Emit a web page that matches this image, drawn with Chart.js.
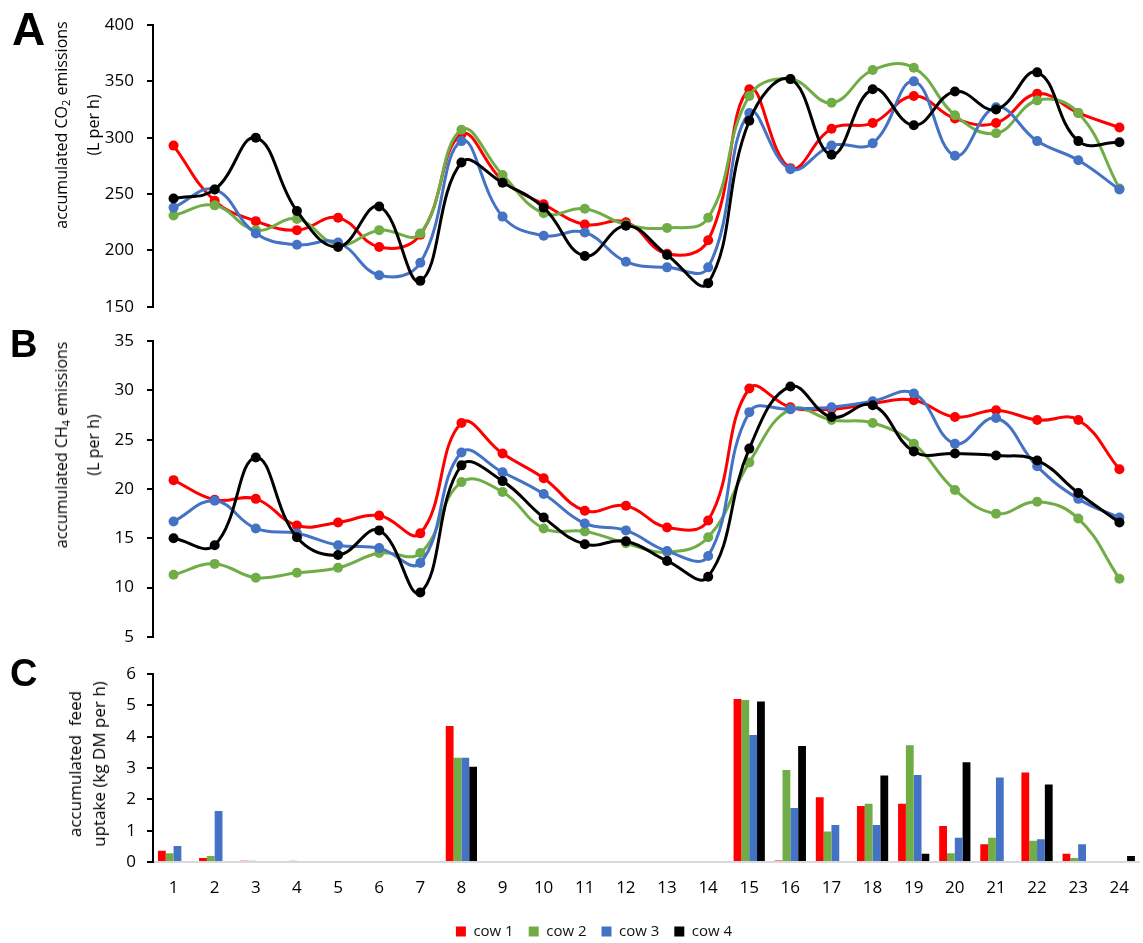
<!DOCTYPE html>
<html>
<head>
<meta charset="utf-8">
<script src="https://cdn.jsdelivr.net/npm/chart.js@4.4.0/dist/chart.umd.min.js"></script>
<style>
  html, body { margin: 0; padding: 0; background: #fff; overflow: hidden; }
  #page { position: relative; width: 1143px; height: 943px; overflow: hidden; font-family: "Open Sans", sans-serif; color: #000; }
  .panel { position: absolute; left: 0; width: 1145px; }
  .letter { position: absolute; font-family: "Liberation Sans", Arial, sans-serif; font-weight: bold; line-height: 1; color: #000; }
  .ytitle { position: absolute; transform: translate(-50%, -50%) rotate(-90deg); white-space: nowrap; text-align: center; font-size: 16px; line-height: 32px; }
  .ytitle sub { font-size: 11px; line-height: 0; vertical-align: -3px; }
</style>
</head>
<body>
<div id="page">
  <div class="panel" style="top:0; height:330px;"><canvas id="co2Chart"></canvas></div>
  <div class="panel" style="top:318px; height:342px;"><canvas id="ch4Chart"></canvas></div>
  <div class="panel" style="top:650px; height:299px;"><canvas id="feedChart"></canvas></div>

  <div class="letter" style="left:12px; top:6px; font-size:46px;">A</div>
  <div class="letter" style="left:10px; top:325px; font-size:38px;">B</div>
  <div class="letter" style="left:10px; top:654px; font-size:38px;">C</div>

  <div class="ytitle" style="left:77px; top:125px;">accumulated CO<sub>2</sub> emissions<br>(L per h)</div>
  <div class="ytitle" style="left:77px; top:445px;">accumulated CH<sub>4</sub> emissions<br>(L per h)</div>
  <div class="ytitle" style="left:87px; top:764px; font-size:17px; line-height:24px;">accumulated&nbsp; feed<br>uptake (kg DM per h)</div>
</div>

<script>
// Hour of the day (x categories shared by all three panels)
const hours = ['1','2','3','4','5','6','7','8','9','10','11','12','13','14','15','16','17','18','19','20','21','22','23','24'];
const cowNames = ['cow 1', 'cow 2', 'cow 3', 'cow 4'];
const cowColors = ['#FF0000', '#70AD47', '#4472C4', '#000000'];

// A: accumulated CO2 emissions (L per h)
const co2Cow1 = [293, 244, 226, 218, 229, 203, 214, 303, 262, 241, 223, 225, 197, 209, 343, 273, 308, 313, 337, 317, 313, 339, 322, 309];
const co2Cow2 = [231, 240, 218, 228, 205, 218, 215, 307, 267, 233, 237, 223, 220, 229, 337, 352, 331, 360, 362, 320, 304, 333, 322, 255];
const co2Cow3 = [238, 254, 215, 205, 207, 178, 189, 297, 230, 213, 216, 190, 185, 185, 322, 272, 293, 295, 350, 284, 327, 297, 280, 254];
const co2Cow4 = [246, 254, 300, 235, 203, 239, 173, 278, 260, 238, 195, 222, 196, 171, 315, 352, 285, 343, 311, 341, 325, 358, 297, 296];

// B: accumulated CH4 emissions (L per h)
const ch4Cow1 = [20.9, 18.9, 19.0, 16.3, 16.6, 17.3, 15.5, 26.7, 23.6, 21.1, 17.8, 18.3, 16.1, 16.8, 30.2, 28.3, 28.1, 28.7, 29.0, 27.3, 28.0, 27.0, 27.0, 22.0];
const ch4Cow2 = [11.3, 12.4, 11.0, 11.5, 12.0, 13.5, 13.5, 20.7, 19.7, 16.0, 15.7, 14.5, 13.6, 15.1, 22.7, 28.1, 27.0, 26.7, 24.6, 19.9, 17.5, 18.7, 17.0, 10.9];
const ch4Cow3 = [16.7, 18.8, 16.0, 15.5, 14.3, 14.0, 12.5, 23.7, 21.7, 19.5, 16.5, 15.8, 13.7, 13.2, 27.8, 28.1, 28.3, 28.9, 29.7, 24.6, 27.2, 22.3, 19.0, 17.1];
const ch4Cow4 = [15.0, 14.3, 23.2, 15.1, 13.3, 15.8, 9.5, 22.4, 20.8, 17.1, 14.4, 14.7, 12.7, 11.1, 24.1, 30.4, 27.3, 28.5, 23.8, 23.6, 23.4, 22.9, 19.6, 16.6];

// C: accumulated feed uptake (kg DM per h)
const feedCow1 = [0.36, 0.13, 0.04, 0, 0, 0, 0, 4.34, 0, 0, 0, 0, 0, 0, 5.20, 0.05, 2.07, 1.79, 1.86, 1.15, 0.57, 2.86, 0.26, 0];
const feedCow2 = [0.28, 0.19, 0.04, 0.04, 0, 0, 0, 3.33, 0, 0, 0, 0, 0, 0, 5.17, 2.94, 0.97, 1.86, 3.73, 0.28, 0.77, 0.68, 0.13, 0];
const feedCow3 = [0.51, 1.63, 0, 0, 0, 0, 0, 3.33, 0, 0, 0, 0, 0, 0, 4.05, 1.72, 1.18, 1.18, 2.78, 0.77, 2.70, 0.73, 0.57, 0];
const feedCow4 = [0, 0, 0, 0, 0, 0, 0, 3.04, 0, 0, 0, 0, 0, 0, 5.12, 3.70, 0, 2.76, 0.26, 3.18, 0, 2.47, 0, 0.19];

const tickFont = { family: 'Open Sans', size: 17 };

function lineSets(series) {
  return series.map((values, i) => ({
    label: cowNames[i],
    data: values,
    borderColor: cowColors[i],
    backgroundColor: cowColors[i],
    pointBackgroundColor: cowColors[i],
    pointBorderWidth: 0,
    pointRadius: 5,
    borderWidth: 3,
    tension: 0.42,
    fill: false,
    clip: false,
    order: series.length - i   // later cows drawn on top
  }));
}

function yAxis(min, max, step, padTicks, width) {
  return {
    min: min, max: max,
    ticks: { stepSize: step, font: tickFont, color: '#000', padding: padTicks },
    grid: { drawOnChartArea: false, drawTicks: true, tickLength: 6, color: '#000', lineWidth: 2 },
    border: { display: true, color: '#000', width: 2 },
    afterFit(scale) { scale.width = width; }
  };
}

function lineChart(id, series, min, max, step, padTop, padBottom) {
  return new Chart(document.getElementById(id), {
    type: 'line',
    data: { labels: hours, datasets: lineSets(series) },
    options: {
      responsive: true,
      maintainAspectRatio: false,
      animation: false,
      events: [],
      layout: { padding: { top: padTop, bottom: padBottom, left: 0, right: 0 } },
      plugins: { legend: { display: false }, tooltip: { enabled: false } },
      scales: {
        x: { type: 'category', offset: true, display: false },
        y: yAxis(min, max, step, 13, 153)
      }
    }
  });
}

lineChart('co2Chart', [co2Cow1, co2Cow2, co2Cow3, co2Cow4], 150, 400, 50, 25, 16);
lineChart('ch4Chart', [ch4Cow1, ch4Cow2, ch4Cow3, ch4Cow4], 5, 35, 5, 22, 16);

new Chart(document.getElementById('feedChart'), {
  type: 'bar',
  data: {
    labels: hours,
    datasets: [feedCow1, feedCow2, feedCow3, feedCow4].map((values, i) => ({
      label: cowNames[i],
      data: values,
      backgroundColor: cowColors[i],
      borderWidth: 0,
      barPercentage: 1.0,
      categoryPercentage: 0.76
    }))
  },
  options: {
    responsive: true,
    maintainAspectRatio: false,
    animation: false,
    events: [],
    layout: { padding: { top: 24, bottom: 0, left: 43, right: 0 } },
    plugins: {
      tooltip: { enabled: false },
      legend: {
        position: 'bottom',
        align: 'center',
        labels: {
          boxWidth: 10, boxHeight: 10, padding: 15,
          color: '#111',
          font: { family: 'Open Sans', size: 15 }
        }
      }
    },
    scales: {
      x: {
        type: 'category', offset: true,
        ticks: { font: tickFont, color: '#000', padding: 16, maxRotation: 0, autoSkip: false },
        grid: { display: false, drawTicks: false },
        border: { display: true, color: '#D9D9D9', width: 2 },
        afterFit(scale) { scale.height = 47; }
      },
      y: yAxis(0, 6, 1, 11, 110)
    }
  }
});
</script>
</body>
</html>
